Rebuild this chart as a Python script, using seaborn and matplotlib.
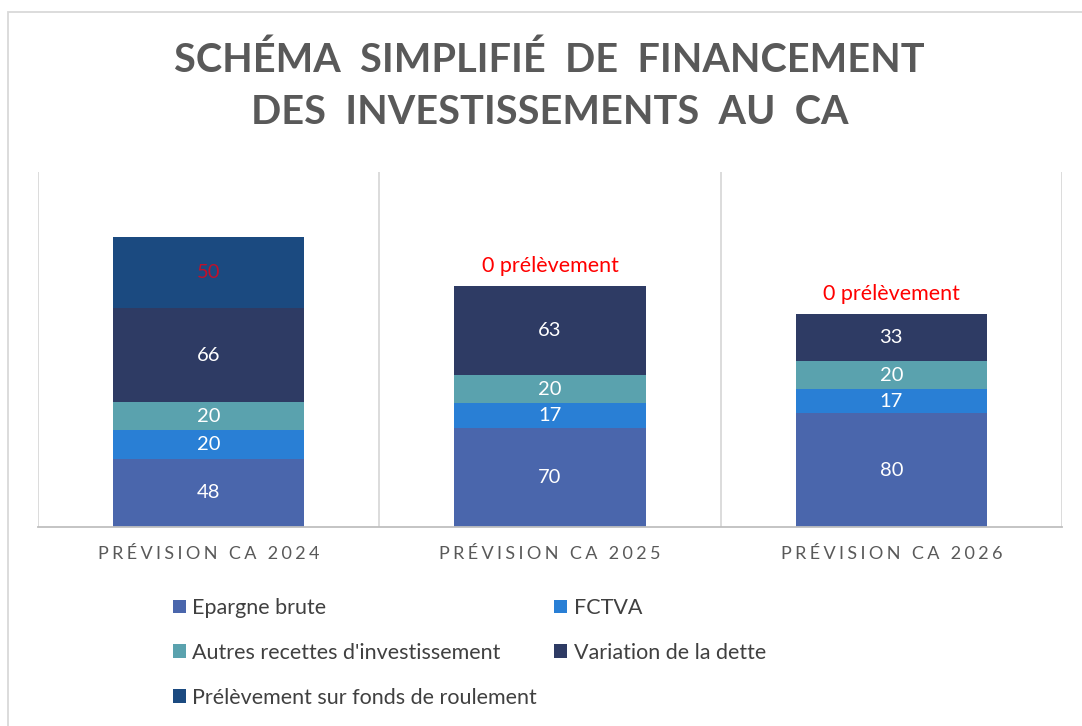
import numpy as np
import pandas as pd
import matplotlib
matplotlib.use("Agg")
import matplotlib.pyplot as plt
import seaborn as sns
from matplotlib.patches import Patch, Rectangle
from matplotlib.colors import to_hex

# Données (en M€)
annees = ["PRÉVISION CA 2024", "PRÉVISION CA 2025", "PRÉVISION CA 2026"]
composantes = ["Epargne brute", "FCTVA", "Autres recettes d'investissement",
               "Variation de la dette", "Prélèvement sur fonds de roulement"]
epargne_brute = [48, 70, 80]
fctva = [20, 17, 17]
autres_recettes = [20, 20, 20]
variation_dette = [66, 63, 33]
prelevement_fdr = [50, 0, 0]
couleurs = ["#4A66AC", "#297FD5", "#5AA2AE", "#2E3B64", "#1B4A80"]

series = [epargne_brute, fctva, autres_recettes, variation_dette, prelevement_fdr]
df = pd.DataFrame([
    {"annee": a, "composante": c, "valeur": v}
    for c, vals in zip(composantes, series)
    for a, v in zip(annees, vals)
])
df["annee"] = pd.Categorical(df["annee"], categories=annees, ordered=True)
df["x"] = df["annee"].cat.codes
totaux = df.groupby("annee", observed=True)["valeur"].sum().reindex(annees).values

sns.set_theme(style="white")
plt.rcParams["font.family"] = ["Lato", "DejaVu Sans"]

fig = plt.figure(figsize=(10.82, 7.26), dpi=100)
ax = fig.add_axes([38 / 1082, 1 - 527 / 726, (1062 - 38) / 1082, (527 - 172) / 726])

# barres empilées (seaborn empile le dernier niveau de hue en bas)
sns.histplot(data=df, x="x", weights="valeur", hue="composante",
             hue_order=composantes[::-1], multiple="stack", discrete=True,
             shrink=0.56, palette=dict(zip(composantes, couleurs)),
             alpha=1, linewidth=0, legend=False, ax=ax)

# étiquettes de valeurs
for p in ax.patches:
    h = p.get_height()
    if h <= 0:
        continue
    couleur = "#C0102A" if to_hex(p.get_facecolor()).lower() == couleurs[4].lower() else "white"
    ax.text(p.get_x() + p.get_width() / 2, p.get_y() + h / 2, f"{h:.0f}",
            ha="center", va="center", fontsize=14.5, color=couleur)

for i, (tot, prel) in enumerate(zip(totaux, prelevement_fdr)):
    if prel == 0:
        ax.annotate("0 prélèvement", (i, tot), xytext=(0, 7), textcoords="offset points",
                    ha="center", va="bottom", fontsize=15.5, color="#FF0000")

ax.set_xlim(-0.5, 2.5)
ax.set_ylim(0, 250)
ax.set_yticks([])
ax.set_xlabel("")
ax.set_ylabel("")
for b in [-0.5, 0.5, 1.5, 2.5]:
    ax.axvline(b, color="#D9D9D9", lw=1.3, zorder=0)
for s in ["left", "right", "top"]:
    ax.spines[s].set_visible(False)
ax.spines["bottom"].set_color("#BFBFBF")
ax.spines["bottom"].set_linewidth(1.3)

ax.set_xticks(range(len(annees)))
ax.set_xticklabels(["\u2009\u200a".join(a) for a in annees])
ax.tick_params(axis="x", length=0, pad=14, labelsize=13, labelcolor="#595959")

fig.text(0.508, 1 - 86 / 726, "SCHÉMA  SIMPLIFIÉ  DE  FINANCEMENT\nDES  INVESTISSEMENTS  AU  CA",
         ha="center", va="center", fontsize=28.5, fontweight="bold", color="#595959",
         linespacing=1.5)

# légende en lignes : réordonnée pour un remplissage ligne par ligne
ordre = [0, 2, 4, 1, 3]
handles = [Patch(facecolor=couleurs[k], edgecolor="none") for k in ordre]
labels = [composantes[k] for k in ordre]
fig.legend(handles, labels, ncol=2, loc="upper left", bbox_to_anchor=(0.152, 0.188),
           frameon=False, fontsize=15.5, labelcolor="#404040", handlelength=0.6,
           handleheight=0.6, handletextpad=0.3, columnspacing=0.8, labelspacing=1.15,
           borderaxespad=0)

fig.patches.append(Rectangle((8 / 1082, -0.01), 1.0, 1 - 12 / 726 + 0.01,
                             transform=fig.transFigure, fill=False,
                             edgecolor="#D9D9D9", lw=1.3))

fig.savefig("out.png", dpi=100)
